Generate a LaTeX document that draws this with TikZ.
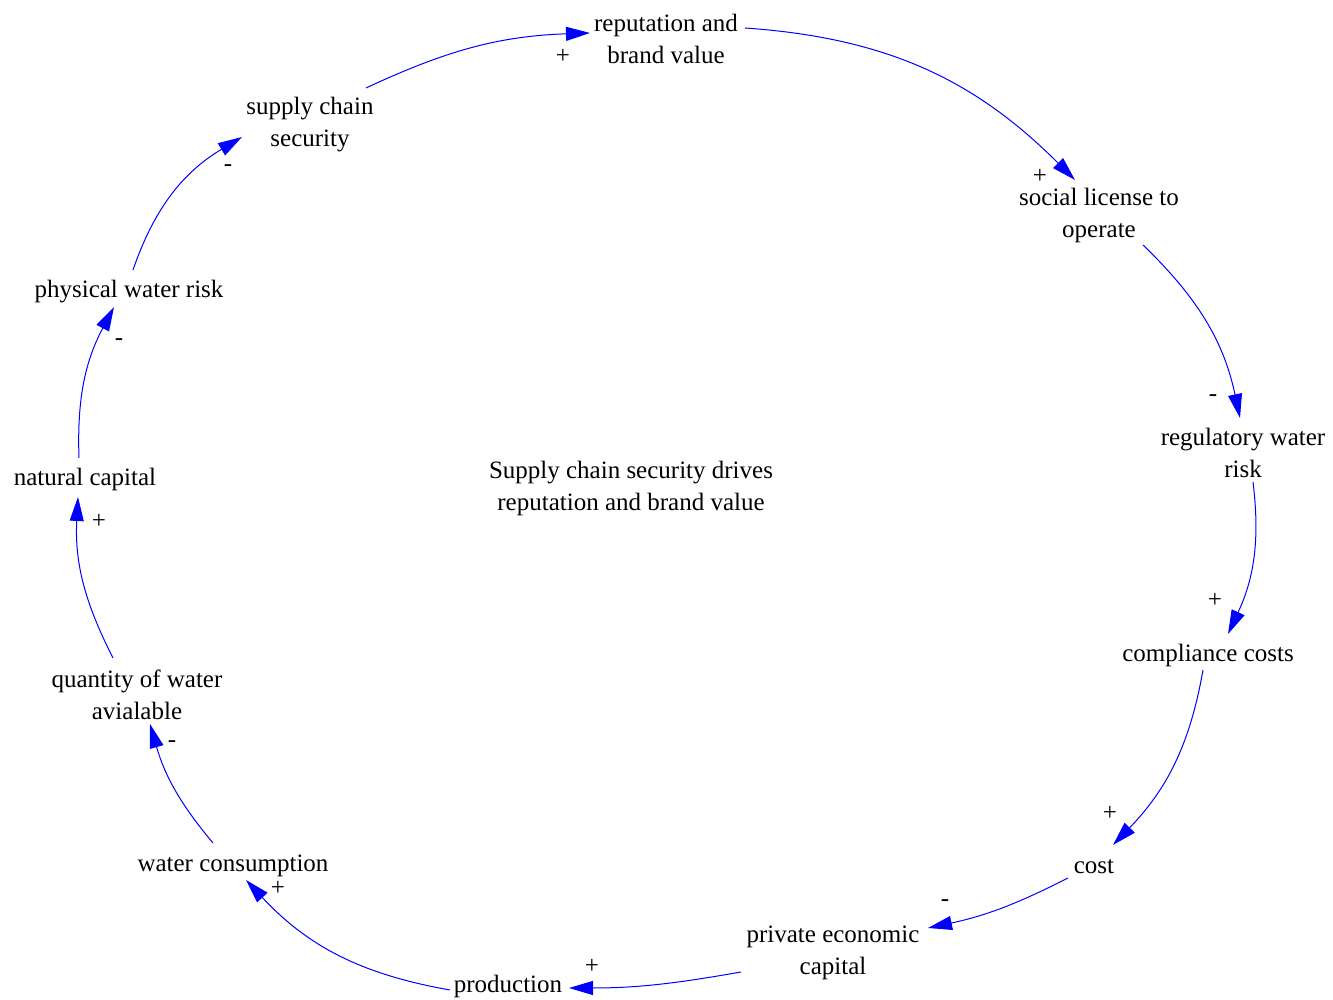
\documentclass[tikz,border=0pt]{standalone}
\usepackage{fontspec}
\setmainfont{Liberation Serif}
\usetikzlibrary{arrows.meta,calc}

\tikzset{
  var/.style={align=center, inner sep=0pt, font=\fontsize{12.5pt}{16pt}\selectfont},
  pol/.style={inner sep=0pt, font=\fontsize{12.5pt}{16pt}\selectfont},
  link/.style={draw=blue, line width=0.5pt,
    -{Triangle[length=12pt,width=7pt,fill=blue]}},
}

\begin{document}
\begin{tikzpicture}[x=0.5pt,y=0.5pt]
  \fill[white] (0,0) rectangle (1333,1000);
  \useasboundingbox (0,0) rectangle (1333,1000);

  % variables of the loop
  \node[var] (rep)  at (666,961)  {reputation and\\brand value};
  \node[var] (slo)  at (1099,784) {social license to\\operate};
  \node[var] (reg)  at (1243,547) {regulatory water\\risk};
  \node[var] (comp) at (1208,345) {compliance costs};
  \node[var] (cost) at (1094,133) {cost};
  \node[var] (pec)  at (833,47)   {private economic\\capital};
  \node[var] (prod) at (508,14)   {production};
  \node[var] (wc)   at (233,134)  {water consumption};
  \node[var] (qwa)  at (137,305)  {quantity of water\\avialable};
  \node[var] (nc)   at (85,521)   {natural capital};
  \node[var] (pwr)  at (129,708)  {physical water risk};
  \node[var] (scs)  at (310,875)  {supply chain\\security};

  \node[var] (title) at (631,512) {Supply chain security drives\\reputation and brand value};

  % causal links
  \draw[link] ($(scs)+(56,37)$)   to[out=25,in=182]  ($(rep)+(-76,6)$);
  \draw[link] ($(rep)+(79,11)$)   to[out=-4,in=135]  ($(slo)+(-24,36)$);
  \draw[link] ($(slo)+(44,-29)$)  to[out=-44,in=102] ($(reg)+(-3,35)$);
  \draw[link] ($(reg)+(10,-29)$)  to[out=-83,in=65]  ($(comp)+(20,21)$);
  \draw[link] ($(comp)+(-5,-15)$) to[out=-100,in=46] ($(cost)+(19,22)$);
  \draw[link] ($(cost)+(-26,-11)$) to[out=207,in=12] ($(pec)+(95,25)$);
  \draw[link] ($(pec)+(-92,-19)$) to[out=190,in=0]   ($(prod)+(61,-2)$);
  \draw[link] ($(prod)+(-58,-4)$) to[out=170,in=313] ($(wc)+(13,-14)$);
  \draw[link] ($(wc)+(-20,23)$)   to[out=130,in=286] ($(qwa)+(13,-29)$);
  \draw[link] ($(qwa)+(-24,37)$)  to[out=117,in=267] ($(nc)+(-7,-18)$);
  \draw[link] ($(nc)+(-6,21)$)    to[out=92,in=242]  ($(pwr)+(-15,-15)$);
  \draw[link] ($(pwr)+(4,22)$)    to[out=71,in=211]  ($(scs)+(-68,-12)$);

  % link polarities
  \node[pol] (p1)  at (563,944)  {+};
  \node[pol] (p2)  at (1040,824) {+};
  \node[pol] (p3)  at (1213,602) {-};
  \node[pol] (p4)  at (1215,400) {+};
  \node[pol] (p5)  at (1110,187) {+};
  \node[pol] (p6)  at (945,97)   {-};
  \node[pol] (p7)  at (592,34)   {+};
  \node[pol] (p8)  at (278,112)  {+};
  \node[pol] (p9)  at (172,256)  {-};
  \node[pol] (p10) at (99,479)   {+};
  \node[pol] (p11) at (119,658)  {-};
  \node[pol] (p12) at (228,832)  {-};
\end{tikzpicture}
\end{document}
